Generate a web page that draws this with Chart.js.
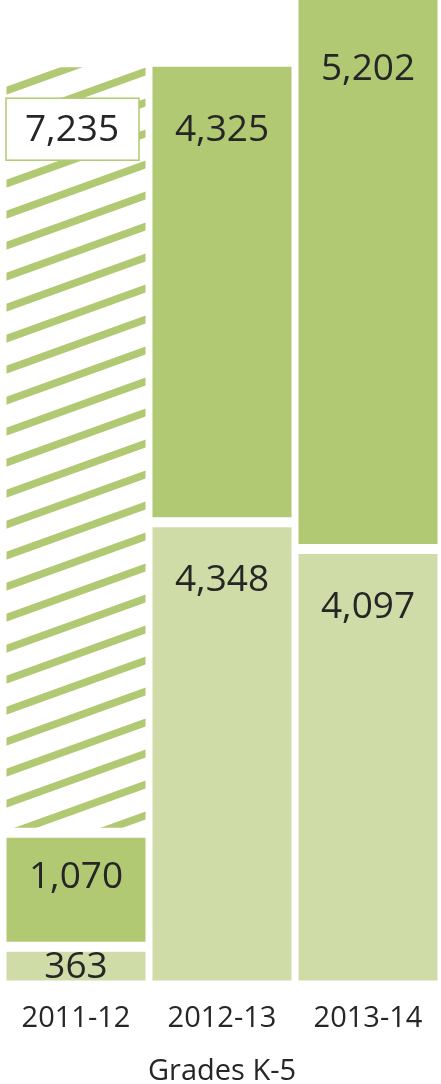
<!DOCTYPE html>
<html>
<head>
<meta charset="utf-8">
<script src="https://cdn.jsdelivr.net/npm/chart.js@4"></script>
<style>
  html, body { margin: 0; padding: 0; background: #fff; }
  canvas { display: block; }
</style>
</head>
<body>
<canvas id="grades-chart" width="441" height="1084"></canvas>
<script>
const categories = ['2011-12', '2012-13', '2013-14'];
const lightValues = [363, 4348, 4097];
const darkValues = [1070, 4325, 5202];
const hatchedValues = [7235, null, null];
const axisTitle = 'Grades K-5';

const darkGreen = '#b1c972';
const lightGreen = '#cfdca8';
const textColor = '#262626';

// diagonal stripe pattern for the hatched segment
function makeStripes() {
  const c = document.createElement('canvas');
  c.width = 86; c.height = 31;
  const g = c.getContext('2d');
  g.fillStyle = '#fff';
  g.fillRect(0, 0, c.width, c.height);
  g.strokeStyle = darkGreen;
  g.lineWidth = 7.5;
  const slope = 31 / 86;
  for (let k = -1; k <= 2; k++) {
    g.beginPath();
    g.moveTo(-20, k * 31 + 20 * slope);
    g.lineTo(106, k * 31 - 106 * slope);
    g.stroke();
  }
  return g.createPattern(c, 'repeat');
}

const gap = { top: 5, bottom: 5, left: 0, right: 0 };

const valueLabels = {
  id: 'valueLabels',
  afterDatasetsDraw(chart) {
    const ctx = chart.ctx;
    ctx.save();
    ctx.font = '37px "Open Sans"';
    ctx.textAlign = 'center';
    ctx.textBaseline = 'middle';
    chart.data.datasets.forEach((ds, di) => {
      const meta = chart.getDatasetMeta(di);
      meta.data.forEach((bar, i) => {
        const v = ds.data[i];
        if (v == null) return;
        const top = Math.max(bar.y, 0);
        const h = bar.base - top;
        const y = h < 60 ? top + h / 2 : top + Math.min(ds.labelOffset, h * 0.38);
        const txt = v.toLocaleString('en-US');
        if (ds.boxed) {
          ctx.fillStyle = '#fff';
          ctx.fillRect(bar.x - 70, y - 31, 133, 62);
          ctx.strokeStyle = darkGreen;
          ctx.lineWidth = 1.5;
          ctx.strokeRect(bar.x - 70, y - 31, 133, 62);
          ctx.fillStyle = textColor;
          ctx.fillText(txt, bar.x - 4, y + 1);
          return;
        }
        ctx.fillStyle = textColor;
        ctx.fillText(txt, bar.x, y + 1);
      });
    });
    ctx.restore();
  }
};

const barStyle = {
  borderColor: '#fff',
  borderWidth: gap,
  borderSkipped: false,
  clip: false,
  categoryPercentage: 1,
  barPercentage: 0.955
};

new Chart(document.getElementById('grades-chart').getContext('2d'), {
  type: 'bar',
  data: {
    labels: categories,
    datasets: [
      Object.assign({ data: lightValues, backgroundColor: lightGreen, labelOffset: 57 }, barStyle),
      Object.assign({ data: darkValues, backgroundColor: darkGreen, labelOffset: 68 }, barStyle),
      Object.assign({ data: hatchedValues, backgroundColor: makeStripes(), boxed: true, labelOffset: 67 }, barStyle)
    ]
  },
  options: {
    responsive: false,
    animation: false,
    layout: { padding: { top: 0, left: 3, right: -2, bottom: -5 } },
    plugins: { legend: { display: false }, tooltip: { enabled: false } },
    scales: {
      x: {
        stacked: true,
        grid: { display: false },
        border: { display: false },
        ticks: { color: textColor, font: { family: 'Open Sans', size: 29 }, padding: 8 },
        title: { display: true, text: axisTitle, color: textColor, font: { family: 'Open Sans', size: 29 }, padding: { top: 10, bottom: 0 } }
      },
      y: {
        stacked: true,
        display: false,
        min: 0,
        max: 9252
      }
    }
  },
  plugins: [valueLabels]
});
</script>
</body>
</html>
